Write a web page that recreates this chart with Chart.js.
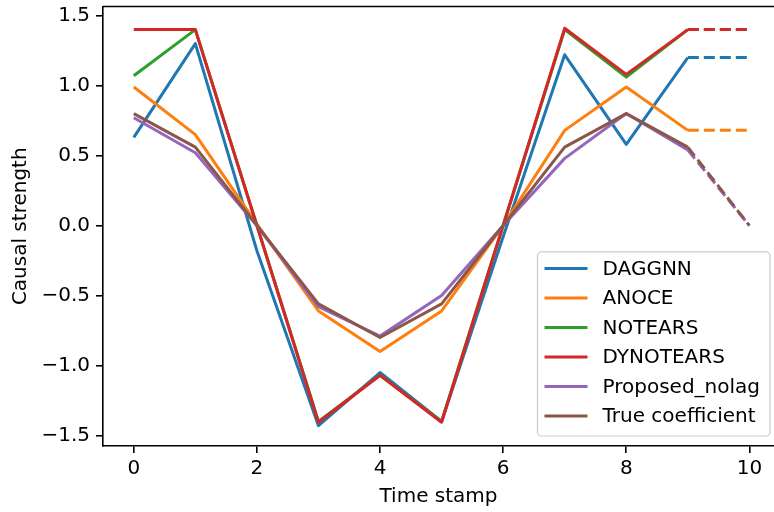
<!DOCTYPE html>
<html>
<head>
<meta charset="utf-8">
<script src="https://cdn.jsdelivr.net/npm/chart.js@4"></script>
<style>
  html, body { margin: 0; padding: 0; background: #fff; overflow: hidden; }
  canvas { display: block; }
</style>
</head>
<body>
<canvas id="grafica" width="774" height="512"></canvas>
<script>
// data
const timeStamps = [0, 1, 2, 3, 4, 5, 6, 7, 8, 9, 10];
const daggnn     = [0.63, 1.30, -0.18, -1.43, -1.05, -1.40, -0.08, 1.22, 0.58, 1.20, 1.20];
const anoce      = [0.99, 0.65, 0.01, -0.61, -0.90, -0.61, 0.0, 0.68, 0.99, 0.68, 0.68];
const notears    = [1.07, 1.40, 0.0, -1.40, -1.07, -1.40, 0.0, 1.40, 1.06, 1.40, 1.40];
const dynotears  = [1.40, 1.40, 0.0, -1.405, -1.07, -1.405, 0.0, 1.41, 1.08, 1.40, 1.40];
const proposed   = [0.77, 0.52, 0.0, -0.58, -0.79, -0.50, 0.0, 0.48, 0.80, 0.54, 0.0];
const trueCoef   = [0.80, 0.56, 0.0, -0.56, -0.80, -0.56, 0.0, 0.56, 0.80, 0.56, 0.0];
const seriesNames = ['DAGGNN', 'ANOCE', 'NOTEARS', 'DYNOTEARS', 'Proposed_nolag', 'True coefficient'];
const xTicks = [0, 2, 4, 6, 8, 10];
const yTicks = [-1.5, -1.0, -0.5, 0.0, 0.5, 1.0, 1.5];

const colores = ['#1f77b4', '#ff7f0e', '#2ca02c', '#d62728', '#9467bd', '#8c564b'];
const FONT = "'DejaVu Sans', sans-serif";
const SIZE = 20;
const lastSolid = 9; // from here the lines are dashed

const valores = [daggnn, anoce, notears, dynotears, proposed, trueCoef];
const datasets = valores.map((vals, i) => ({
    label: seriesNames[i],
    data: vals.map((v, j) => ({ x: timeStamps[j], y: v })),
    borderColor: colores[i],
    backgroundColor: colores[i],
    borderWidth: 3,
    pointRadius: 0,
    tension: 0,
    borderJoinStyle: 'round',
    order: valores.length - i, // later series on top, like matplotlib
    segment: {
        borderDash: ctx => ctx.p0DataIndex >= lastSolid ? [11, 5] : undefined
    }
}));

// top spine + legend box in the lower right corner
const marco = {
    id: 'marco',
    afterDraw(chart) {
        const c = chart.ctx, a = chart.chartArea;
        c.save();
        c.strokeStyle = '#000';
        c.lineWidth = 1.6;
        c.beginPath();
        c.moveTo(a.left, a.top);
        c.lineTo(chart.width, a.top);
        c.stroke();

        c.font = SIZE + 'px ' + FONT;
        let maxW = 0;
        seriesNames.forEach(n => { maxW = Math.max(maxW, c.measureText(n).width); });
        const rowH = 29.5;
        const w = 7 + 43 + 15 + maxW + 10;
        const h = 16.6 + rowH * (seriesNames.length - 1) + 20;
        const x0 = 770 - w, y0 = a.bottom - 10 - h;
        c.beginPath();
        c.roundRect(x0, y0, w, h, 4);
        c.fillStyle = 'rgba(255,255,255,0.8)';
        c.fill();
        c.strokeStyle = '#cccccc';
        c.lineWidth = 1.2;
        c.stroke();
        seriesNames.forEach((n, i) => {
            const yy = y0 + 16.6 + i * rowH;
            c.strokeStyle = colores[i];
            c.lineWidth = 3;
            c.beginPath();
            c.moveTo(x0 + 7, yy);
            c.lineTo(x0 + 50, yy);
            c.stroke();
            c.fillStyle = '#000';
            c.textBaseline = 'middle';
            c.textAlign = 'left';
            c.fillText(n, x0 + 65, yy + 1);
        });
        c.restore();
    }
};

new Chart(document.getElementById('grafica').getContext('2d'), {
    type: 'line',
    data: { datasets },
    plugins: [marco],
    options: {
        responsive: false,
        animation: false,
        layout: { padding: { left: 0, top: 6.5, right: 0, bottom: 0 } },
        plugins: { legend: { display: false }, tooltip: { enabled: false } },
        scales: {
            x: {
                type: 'linear',
                min: -0.5,
                max: 10.4,
                afterBuildTicks: s => { s.ticks = xTicks.map(v => ({ value: v })); },
                afterFit: s => { s.height = 66; s.paddingLeft = 0; s.paddingRight = 0; },
                grid: { drawOnChartArea: false, drawTicks: true, tickLength: 7, color: '#000', lineWidth: 1.6 },
                border: { color: '#000', width: 1.6 },
                ticks: { color: '#000', font: { family: FONT, size: SIZE }, padding: 4, maxRotation: 0 },
                title: { display: true, text: 'Time stamp', color: '#000',
                         font: { family: FONT, size: SIZE }, padding: { top: 0, bottom: 3 } }
            },
            y: {
                min: -1.575,
                max: 1.565,
                afterBuildTicks: s => { s.ticks = yTicks.map(v => ({ value: v })); },
                afterFit: s => { s.width = 103; s.paddingTop = 0; s.paddingBottom = 0; },
                grid: { drawOnChartArea: false, drawTicks: true, tickLength: 7, color: '#000', lineWidth: 1.6 },
                border: { color: '#000', width: 1.6 },
                ticks: { color: '#000', font: { family: FONT, size: SIZE }, padding: 6,
                         callback: v => (v < 0 ? '\u2212' : '') + Math.abs(v).toFixed(1) },
                title: { display: true, text: 'Causal strength', color: '#000',
                         font: { family: FONT, size: SIZE }, padding: { top: 9, bottom: 0 } }
            }
        }
    }
});
</script>
</body>
</html>
